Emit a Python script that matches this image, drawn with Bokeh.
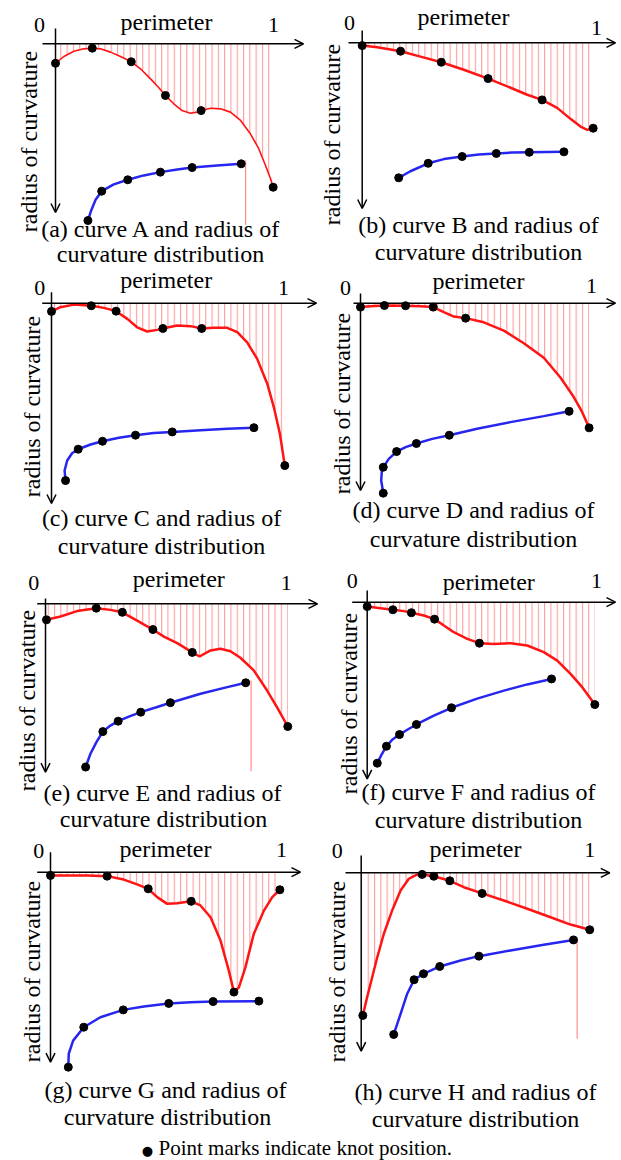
import math
from bokeh.plotting import figure
from bokeh.models import Range1d, Label, Arrow, OpenHead
from bokeh.layouts import column, row
from bokeh.embed import file_html
from bokeh.resources import INLINE

# ---------------- data (perimeter in [0,1], radius downward in same units) ----------------
a_red_x = [0, 0.038, 0.084, 0.129, 0.168, 0.205, 0.251, 0.297, 0.346, 0.388, 0.434, 0.472, 0.502, 0.540,
           0.578, 0.616, 0.647, 0.665, 0.708, 0.753, 0.799, 0.845, 0.890, 0.928, 0.959, 0.982, 0.994]
a_red_y = [0.089, 0.058, 0.034, 0.023, 0.020, 0.023, 0.038, 0.058, 0.082, 0.114, 0.160, 0.201, 0.236, 0.274,
           0.305, 0.317, 0.312, 0.305, 0.294, 0.297, 0.312, 0.350, 0.411, 0.479, 0.556, 0.616, 0.655]
a_red_knots = [0, 4, 8, 12, 17, 26]
a_blue_x = [0.148, 0.163, 0.183, 0.211, 0.266, 0.330, 0.403, 0.479, 0.556, 0.624, 0.738, 0.848]
a_blue_y = [0.807, 0.761, 0.712, 0.673, 0.642, 0.621, 0.601, 0.586, 0.574, 0.565, 0.556, 0.548]
a_blue_knots = [0, 3, 5, 7, 9, 11]
a_mark = [0.868, 0.533, 0.826]

b_red_x = [0, 0.064, 0.164, 0.249, 0.338, 0.434, 0.538, 0.634, 0.705, 0.769, 0.833, 0.890, 0.933, 0.962, 0.987]
b_red_y = [0.012, 0.019, 0.036, 0.059, 0.083, 0.115, 0.153, 0.192, 0.222, 0.244, 0.278, 0.325, 0.358, 0.372, 0.365]
b_red_knots = [0, 2, 4, 6, 9, 14]
b_blue_x = [0.156, 0.206, 0.282, 0.349, 0.427, 0.498, 0.573, 0.641, 0.714, 0.862]
b_blue_y = [0.577, 0.549, 0.515, 0.497, 0.486, 0.477, 0.473, 0.469, 0.468, 0.466]
b_blue_knots = [0, 2, 4, 6, 8, 9]
b_mark = None

c_red_x = [0, 0.038, 0.095, 0.170, 0.224, 0.276, 0.324, 0.366, 0.409, 0.452, 0.476, 0.537, 0.594, 0.642,
           0.694, 0.751, 0.794, 0.836, 0.879, 0.922, 0.950, 0.976, 0.997]
c_red_y = [0.035, 0.017, 0.006, 0.011, 0.020, 0.034, 0.067, 0.103, 0.121, 0.114, 0.108, 0.095, 0.098, 0.108,
           0.105, 0.105, 0.124, 0.167, 0.238, 0.344, 0.444, 0.558, 0.694]
c_red_knots = [0, 3, 5, 10, 13, 22]
c_blue_x = [0.060, 0.056, 0.067, 0.088, 0.114, 0.167, 0.218, 0.288, 0.359, 0.437, 0.516, 0.637, 0.751, 0.865]
c_blue_y = [0.758, 0.715, 0.672, 0.641, 0.624, 0.604, 0.590, 0.575, 0.564, 0.555, 0.550, 0.543, 0.537, 0.532]
c_blue_knots = [0, 4, 6, 8, 10, 13]
c_mark = None

d_red_x = [0, 0.043, 0.104, 0.196, 0.261, 0.316, 0.362, 0.406, 0.457, 0.536, 0.623, 0.710, 0.797, 0.870,
           0.928, 0.964, 0.994]
d_red_y = [0.017, 0.013, 0.010, 0.011, 0.013, 0.017, 0.039, 0.058, 0.065, 0.083, 0.119, 0.174, 0.237, 0.324,
           0.409, 0.474, 0.542]
d_red_knots = [0, 2, 3, 5, 8, 16]
d_blue_x = [0.099, 0.090, 0.093, 0.099, 0.123, 0.157, 0.196, 0.243, 0.312, 0.386, 0.507, 0.652, 0.797, 0.907]
d_blue_y = [0.826, 0.771, 0.727, 0.713, 0.677, 0.645, 0.626, 0.610, 0.590, 0.574, 0.546, 0.517, 0.491, 0.470]
d_blue_knots = [0, 3, 5, 7, 9, 13]
d_mark = None

e_red_x = [0.004, 0.062, 0.130, 0.209, 0.267, 0.316, 0.377, 0.442, 0.487, 0.542, 0.604, 0.634, 0.679, 0.720,
           0.761, 0.802, 0.857, 0.912, 0.953, 0.997]
e_red_y = [0.066, 0.052, 0.030, 0.018, 0.025, 0.035, 0.069, 0.106, 0.135, 0.162, 0.200, 0.217, 0.192, 0.185,
           0.195, 0.222, 0.274, 0.357, 0.426, 0.505]
e_red_knots = [0, 3, 5, 7, 10, 19]
e_blue_x = [0.165, 0.185, 0.209, 0.236, 0.267, 0.299, 0.343, 0.392, 0.453, 0.514, 0.638, 0.748, 0.824]
e_blue_y = [0.672, 0.617, 0.570, 0.526, 0.501, 0.483, 0.464, 0.446, 0.427, 0.407, 0.370, 0.343, 0.325]
e_blue_knots = [0, 3, 5, 7, 9, 12]
e_mark = [0.846, 0.316, 0.689]

f_red_x = [0, 0.058, 0.112, 0.160, 0.193, 0.247, 0.294, 0.335, 0.378, 0.437, 0.490, 0.553, 0.626, 0.699,
           0.771, 0.830, 0.888, 0.939, 0.994]
f_red_y = [0.019, 0.026, 0.033, 0.039, 0.046, 0.058, 0.074, 0.102, 0.131, 0.160, 0.179, 0.182, 0.179, 0.189,
           0.218, 0.255, 0.313, 0.371, 0.447]
f_red_knots = [0, 2, 4, 6, 10, 18]
f_blue_x = [0.044, 0.061, 0.084, 0.109, 0.141, 0.175, 0.215, 0.291, 0.368, 0.480, 0.597, 0.699, 0.805]
f_blue_y = [0.703, 0.669, 0.629, 0.601, 0.578, 0.557, 0.534, 0.495, 0.461, 0.421, 0.386, 0.359, 0.335]
f_blue_knots = [0, 2, 4, 6, 8, 12]
f_mark = None

g_red_x = [0, 0.072, 0.159, 0.245, 0.317, 0.375, 0.423, 0.462, 0.505, 0.548, 0.609, 0.649, 0.693, 0.736,
           0.772, 0.794, 0.816, 0.844, 0.880, 0.924, 0.960, 0.993]
g_red_y = [0.014, 0.014, 0.014, 0.017, 0.032, 0.053, 0.072, 0.108, 0.137, 0.134, 0.126, 0.144, 0.195, 0.296,
           0.426, 0.519, 0.498, 0.411, 0.267, 0.166, 0.108, 0.076]
g_red_knots = [0, 3, 6, 10, 15, 21]
g_blue_x = [0.077, 0.079, 0.098, 0.144, 0.216, 0.315, 0.404, 0.512, 0.606, 0.704, 0.902]
g_blue_y = [0.844, 0.786, 0.729, 0.671, 0.628, 0.596, 0.581, 0.568, 0.563, 0.560, 0.558]
g_blue_knots = [0, 3, 5, 7, 9, 10]
g_mark = None

h_red_x = [0.007, 0.026, 0.048, 0.070, 0.099, 0.135, 0.172, 0.208, 0.241, 0.266, 0.317, 0.387, 0.448, 0.528,
           0.623, 0.725, 0.827, 0.914, 0.998]
h_red_y = [0.623, 0.543, 0.456, 0.369, 0.266, 0.165, 0.077, 0.026, 0.009, 0.007, 0.015, 0.035, 0.063, 0.090,
           0.121, 0.157, 0.194, 0.226, 0.249]
h_red_knots = [0, 9, 10, 11, 13, 18]
h_blue_x = [0.142, 0.172, 0.201, 0.231, 0.272, 0.343, 0.434, 0.514, 0.652, 0.797, 0.927]
h_blue_y = [0.706, 0.616, 0.528, 0.467, 0.441, 0.409, 0.383, 0.364, 0.339, 0.314, 0.293]
h_blue_knots = [0, 3, 4, 5, 7, 10]
h_mark = [0.943, 0.281, 0.725]

captions = {
    "a": ("(a) curve A and radius of", "curvature distribution"),
    "b": ("(b) curve B and radius of", "curvature distribution"),
    "c": ("(c) curve C and radius of", "curvature distribution"),
    "d": ("(d) curve D and radius of", "curvature distribution"),
    "e": ("(e) curve E and radius of", "curvature distribution"),
    "f": ("(f) curve F and radius of", "curvature distribution"),
    "g": ("(g) curve G and radius of", "curvature distribution"),
    "h": ("(h) curve H and radius of", "curvature distribution"),
}
footnote = "Point marks indicate knot position."

# ---------------- layout (picture pixel geometry) ----------------
GEO = {
    "a": dict(FL=0, FT=0, FW=320, FH=267, ox=55, oy=43.3, L=219, xs=42, xt=303, yt=28, yb=212),
    "b": dict(FL=320, FT=0, FW=301, FH=267, ox=361.7, oy=42.3, L=234, xs=348, xt=615, yt=30, yb=208),
    "c": dict(FL=0, FT=267, FW=320, FH=292, ox=51, oy=302.7, L=234, xs=41.7, xt=316, yt=291.7, yb=503),
    "d": dict(FL=320, FT=267, FW=301, FH=292, ox=360, oy=302.7, L=230, xs=353, xt=615, yt=293, yb=490),
    "e": dict(FL=0, FT=559, FW=320, FH=275, ox=45, oy=603.3, L=243, xs=36.7, xt=317, yt=598, yb=771.7),
    "f": dict(FL=320, FT=559, FW=301, FH=275, ox=366.7, oy=601.7, L=229, xs=351.7, xt=615, yt=590, yb=778.3),
    "g": dict(FL=0, FT=834, FW=320, FH=300, ox=50, oy=871.7, L=231, xs=36.7, xt=300, yt=851.7, yb=1061.7),
    "h": dict(FL=320, FT=834, FW=301, FH=300, ox=360.7, oy=872.3, L=229, xs=345, xt=609.3, yt=855, yb=1050.7),
}
TXT = {
    "a": dict(zero=(39, 32.3), perim=(166, 30), one=(273, 32.3), rad=(37.3, 141), c1=(161, 237), c2=(160, 261.5)),
    "b": dict(zero=(349, 30), perim=(463, 25), one=(596, 35), rad=(340, 134), c1=(478, 233.3), c2=(478, 260)),
    "c": dict(zero=(39.3, 295), perim=(165.7, 288.3), one=(283, 295), rad=(40, 406), c1=(161, 526), c2=(161, 553.5)),
    "d": dict(zero=(345, 295), perim=(478, 289.3), one=(591, 293.3), rad=(350, 403), c1=(473, 518.3), c2=(473, 546.7)),
    "e": dict(zero=(33.3, 590), perim=(178.3, 586.7), one=(285.7, 590), rad=(35, 700), c1=(162, 800.7), c2=(163, 826.7)),
    "f": dict(zero=(351.7, 588.3), perim=(488.3, 590), one=(596, 588.3), rad=(356.7, 703), c1=(478, 800), c2=(478, 828.3)),
    "g": dict(zero=(38.3, 858.3), perim=(165, 857.3), one=(281, 856.7), rad=(40, 971), c1=(165, 1098.3), c2=(167, 1125)),
    "h": dict(zero=(336.7, 858.3), perim=(475, 857.3), one=(589.3, 856.7), rad=(345, 971), c1=(475, 1100), c2=(475, 1126.7)),
}

SERIF = "Liberation Serif"
RED = "#ff1414"
HATCH = "#ff8c8c"
BLUE = "#2626f0"
BASE_SHIFT = 0.35  # em: correction between Bokeh's alphabetic anchor and the glyph baseline

DATA = {
    "a": (a_red_x, a_red_y, a_red_knots, a_blue_x, a_blue_y, a_blue_knots, a_mark),
    "b": (b_red_x, b_red_y, b_red_knots, b_blue_x, b_blue_y, b_blue_knots, b_mark),
    "c": (c_red_x, c_red_y, c_red_knots, c_blue_x, c_blue_y, c_blue_knots, c_mark),
    "d": (d_red_x, d_red_y, d_red_knots, d_blue_x, d_blue_y, d_blue_knots, d_mark),
    "e": (e_red_x, e_red_y, e_red_knots, e_blue_x, e_blue_y, e_blue_knots, e_mark),
    "f": (f_red_x, f_red_y, f_red_knots, f_blue_x, f_blue_y, f_blue_knots, f_mark),
    "g": (g_red_x, g_red_y, g_red_knots, g_blue_x, g_blue_y, g_blue_knots, g_mark),
    "h": (h_red_x, h_red_y, h_red_knots, h_blue_x, h_blue_y, h_blue_knots, h_mark),
}


def label(p, pos, text, size, align="center", angle=0.0, baseline="alphabetic", font=SERIF, shift=True):
    x, y = pos
    if shift:
        d = BASE_SHIFT * size
        if angle:
            x -= d
        else:
            y -= d
    p.add_layout(Label(x=x, y=y, x_range_name="px", y_range_name="py", text=text,
                       text_font=font, text_font_size=f"{size}px", text_align=align,
                       text_baseline=baseline, angle=angle, text_color="black"))


def bare_figure(FL, FT, FW, FH, xr, yr):
    p = figure(width=FW, height=FH, output_backend="svg", toolbar_location=None,
               x_range=xr, y_range=yr, x_axis_location=None, y_axis_location=None,
               min_border=0, min_border_left=0, min_border_right=0,
               min_border_top=0, min_border_bottom=0, outline_line_color=None,
               background_fill_color="white", border_fill_color="white")
    p.xgrid.visible = False
    p.ygrid.visible = False
    p.extra_x_ranges = {"px": Range1d(FL, FL + FW)}
    p.extra_y_ranges = {"py": Range1d(FT + FH, FT)}
    return p


def make_panel(key):
    g = GEO[key]
    ox, oy, L = g["ox"], g["oy"], g["L"]
    FL, FT, FW, FH = g["FL"], g["FT"], g["FW"], g["FH"]
    p = bare_figure(FL, FT, FW, FH,
                    Range1d((FL - ox) / L, (FL + FW - ox) / L),
                    Range1d((FT + FH - oy) / L, (FT - oy) / L))

    rx, ry, rk, bx, by, bk, mark = DATA[key]
    red_w = 1.6 if key == "a" else 2.5
    # hatched area between the perimeter axis and the radius-of-curvature curve
    p.varea(x=rx, y1=[0] * len(rx), y2=ry, fill_color=None, fill_alpha=0,
            hatch_pattern="vertical_line", hatch_color=HATCH, hatch_scale=6.3,
            hatch_weight=1.1, hatch_alpha=0.85)
    if mark is not None:
        p.segment(x0=[mark[0]], y0=[mark[1]], x1=[mark[0]], y1=[mark[2]],
                  line_color=HATCH, line_width=1.2)
    p.line(rx, ry, line_color=RED, line_width=red_w)
    p.line(bx, by, line_color=BLUE, line_width=2.5)
    p.scatter([rx[i] for i in rk], [ry[i] for i in rk], size=8, color="black")
    p.scatter([bx[i] for i in bk], [by[i] for i in bk], size=8, color="black")

    head = dict(size=9, line_width=1.5, line_color="black")
    p.add_layout(Arrow(x_start=g["xs"], y_start=oy, x_end=g["xt"], y_end=oy,
                       x_range_name="px", y_range_name="py",
                       end=OpenHead(**head), line_width=1.5, line_color="black"))
    p.add_layout(Arrow(x_start=ox, y_start=g["yt"], x_end=ox, y_end=g["yb"],
                       x_range_name="px", y_range_name="py",
                       end=OpenHead(**head), line_width=1.5, line_color="black"))

    t = TXT[key]
    label(p, t["zero"], "0", 22)
    label(p, t["one"], "1", 22)
    label(p, t["perim"], "perimeter", 24)
    label(p, t["rad"], "radius of curvature", 24, angle=math.pi / 2)
    label(p, t["c1"], captions[key][0], 24)
    label(p, t["c2"], captions[key][1], 24)
    return p


panels = {k: make_panel(k) for k in "abcdefgh"}

foot = bare_figure(0, 1134, 621, 26, Range1d(0, 621), Range1d(1160, 1134))
label(foot, (147, 1150), "\u25cf", 13, baseline="middle", font="DejaVu Sans", shift=False)
label(foot, (158, 1155), footnote, 21, align="left")

layout = column(
    row(panels["a"], panels["b"]),
    row(panels["c"], panels["d"]),
    row(panels["e"], panels["f"]),
    row(panels["g"], panels["h"]),
    foot,
)

open("out.html", "w").write(file_html(layout, INLINE))
